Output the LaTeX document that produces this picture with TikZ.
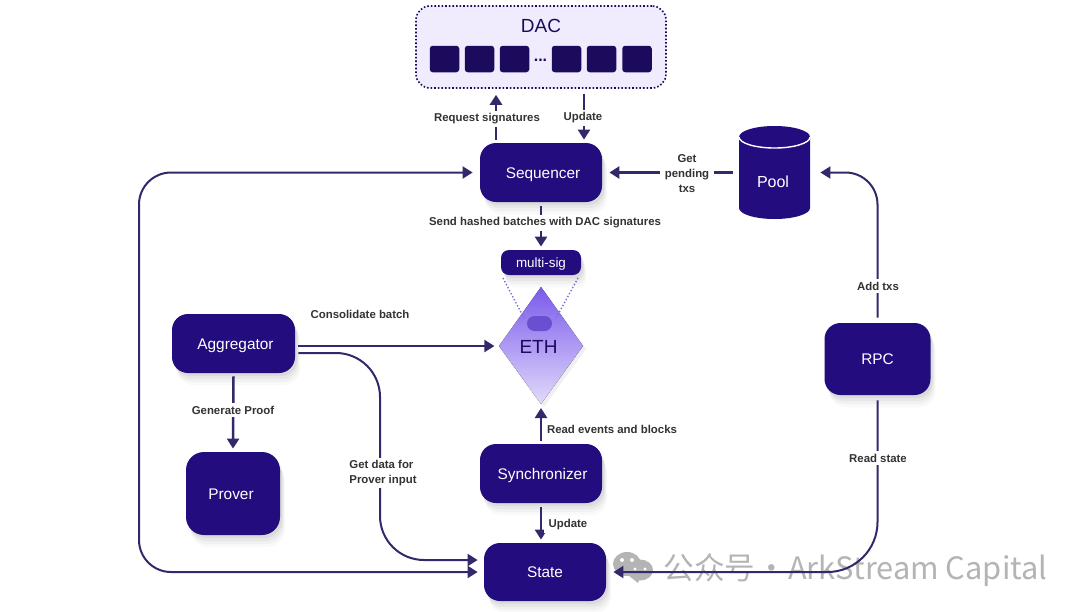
\documentclass[tikz,border=0pt]{standalone}
\usepackage{fontspec}
\setmainfont{Liberation Sans}
\newfontfamily\cjk{Noto Sans CJK SC}
\usepackage{xcolor}
\usetikzlibrary{arrows.meta,shadows,calc}
\definecolor{navy}{HTML}{220C7E}
\definecolor{ink}{HTML}{1C0A5C}
\definecolor{wire}{HTML}{332869}
\definecolor{lilac}{HTML}{F0ECFD}
\definecolor{wmgray}{HTML}{B4B4B4}
\definecolor{ethtop}{HTML}{7A5AEC}
\definecolor{ethmid}{HTML}{A28BF0}
\definecolor{ethlow}{HTML}{E2DAFB}
\definecolor{pillfill}{HTML}{6A50D0}
\tikzset{
  softshadow/.style={
    general shadow={fill=black,opacity=0.025,shadow xshift=2.5pt,shadow yshift=-6pt,scale=1.04},
    general shadow={fill=black,opacity=0.03,shadow xshift=2pt,shadow yshift=-4.5pt,scale=1.02},
    general shadow={fill=black,opacity=0.04,shadow xshift=1.5pt,shadow yshift=-3pt},
    general shadow={fill=black,opacity=0.05,shadow xshift=1pt,shadow yshift=-1.5pt}},
  box/.style={fill=navy, text=white, rounded corners=8pt, inner sep=0pt, text height=6.5pt, text depth=1pt,
    font=\fontsize{7.7}{10}\selectfont, softshadow},
  chip/.style={fill=ink, rounded corners=1.5pt, minimum width=14.75pt, minimum height=13.25pt, inner sep=0pt},
  lab/.style={fill=white, inner xsep=2.5pt, inner ysep=1.2pt, align=center, font=\fontsize{5.7}{7.4}\selectfont\bfseries\color{black!80}},
  flow/.style={draw=wire, line width=1.25pt, -{Triangle[length=5pt,width=6pt]}},
  longflow/.style={draw=wire, line width=1pt, rounded corners=#1, -{Triangle[length=5pt,width=6pt]}},
  longflow/.default=16pt,
}
\begin{document}
\begin{tikzpicture}[x=0.5pt,y=-0.5pt]
  \useasboundingbox (0,0) rectangle (1080,611);
  \fill[white] (0,0) rectangle (1080,611);

  % watermark
  \fill[wmgray] (627,564) ellipse (14 and 12);
  \fill[wmgray] (640,570) ellipse (13 and 10.5);
  \fill[wmgray] (632,578) -- (638,583) -- (640,577) -- cycle;
  \fill[white] (622,560) circle (2) (632,560) circle (2) (635,569) circle (1.6) (645,569) circle (1.6);
  \node[anchor=west,inner sep=0pt,text=wmgray] (wm) at (663,570.5)
    {\fontsize{15.3}{18}\selectfont\cjk 公众号\hspace{0.6pt}·\hspace{0.6pt}\fontsize{15.4}{18}\selectfont ArkStream Capital};

  % DAC
  \node[draw=ink, fill=lilac, densely dotted, line width=0.8pt, rounded corners=7pt,
    minimum width=125pt, minimum height=41pt] (dac) at (541,47) {};
  \node[text=ink, font=\fontsize{9.5}{11}\selectfont] (dactitle) at (541,26) {DAC};
  \foreach \n/\x in {a/444.5,b/479.5,c/514.5,d/566.5,e/601.5,f/637}
    \node[chip] (\n) at (\x,59) {};
  \node[text=ink, font=\fontsize{8}{9}\selectfont\bfseries] (dots) at (540.5,60) {...};

  % boxes
  \node[box, minimum width=61pt, minimum height=29.5pt] (seq) at (541,172.5) {\hspace*{2pt}Sequencer};
  \node[box, minimum width=61.5pt, minimum height=29.5pt] (agg) at (233.5,343.5) {\hspace*{2pt}Aggregator};
  \node[box, minimum width=47pt, minimum height=41.5pt, rounded corners=9pt] (prover) at (233,493.5) {Prover\hspace*{2pt}};
  \node[box, minimum width=61pt, minimum height=29.5pt] (sync) at (541,473.5) {\hspace*{1.5pt}Synchronizer};
  \node[box, minimum width=61pt, minimum height=29pt] (state) at (545,572) {State};
  \node[box, minimum width=53pt, minimum height=36pt] (rpc) at (877.5,359) {RPC};
  \node[box, minimum width=40pt, minimum height=12.5pt, rounded corners=4pt, text height=5.5pt, text depth=0.8pt,
    font=\fontsize{6.7}{8}\selectfont] (msig) at (541,262.5) {multi-sig};

  % pool
  \fill[navy] (739,137) arc[start angle=180, end angle=360, x radius=35.5, y radius=11]
    -- (810,208) arc[start angle=0, end angle=180, x radius=35.5, y radius=11] -- cycle;
  \draw[white, line width=0.7pt] (739,137) arc[start angle=180, end angle=0, x radius=35.5, y radius=11];
  \node[minimum width=35.5pt, minimum height=46.5pt, inner sep=0pt] (pool) at (774.5,172.5) {};
  \node[text=white, font=\fontsize{8}{10}\selectfont] (poolname) at (773,182) {Pool};

  % ETH
  \coordinate (ethN) at (541,287);
  \coordinate (ethE) at (583,346);
  \coordinate (ethS) at (541,404);
  \coordinate (ethW) at (499,346);
  \fill[black, opacity=0.06] ($(ethN)+(3,3)$) -- ($(ethE)+(3,3)$) -- ($(ethS)+(3,3)$) -- ($(ethW)+(3,3)$) -- cycle;
  \fill[top color=ethtop, middle color=ethmid, bottom color=ethlow] (ethN) -- (ethE) -- (ethS) -- (ethW) -- cycle;
  \draw[pillfill!85, densely dotted, line width=0.7pt] (503,278) -- (525,320);
  \draw[pillfill!85, densely dotted, line width=0.7pt] (578,278) -- (555,320);
  \node[fill=pillfill, rounded corners=3.7pt, minimum width=12.5pt, minimum height=7.5pt, inner sep=0pt] (pill) at (539.5,323.5) {};
  \node[text=ink, font=\fontsize{9.5}{12}\selectfont] (eth) at (538.5,347) {ETH};

  % connectors
  \draw[flow] ([xshift=-22.5pt,yshift=1.5pt]seq.north) -- ([xshift=-22.5pt,yshift=-3pt]dac.south);
  \draw[flow] ([xshift=21.5pt,yshift=-2.5pt]dac.south) -- ([xshift=21.5pt,yshift=1.5pt]seq.north);
  \draw[flow] ([yshift=-2pt]seq.south) -- ([yshift=1.5pt]msig.north);
  \draw[flow] ([xshift=-3pt]pool.west |- seq.east) -- ([xshift=3.5pt]seq.east);
  \draw[flow] ([yshift=-1.5pt]agg.south) -- ([yshift=1.5pt]prover.north);
  \draw[flow] ([yshift=1.5pt]sync.north) -- (ethS |- 0,408);
  \draw[flow] ([yshift=-2pt]sync.south) -- ([xshift=-2pt,yshift=1.5pt]state.north);
  \draw[longflow] ([xshift=1.5pt,yshift=-1.25pt]agg.east) -- +(98pt,0);
  \draw[longflow=22pt] ([xshift=1.5pt,yshift=-4.75pt]agg.east) -- (380,353) -- (380,560) -- ([xshift=-3pt,yshift=6pt]state.west);
  \draw[longflow] ([yshift=2.5pt]rpc.north) -- (877.5,172.5) -- ([xshift=5pt]pool.east |- seq.east);
  \draw[longflow=25pt] ([yshift=-2.5pt]rpc.south) -- (877.5,572) -- ([xshift=3.5pt]state.east);
  \draw[longflow, {Triangle[length=5pt,width=6pt]}-{Triangle[length=5pt,width=6pt]}]
    ([xshift=-3.5pt]seq.west) -- (139,172.5) -- (139,572) -- ([xshift=-3pt]state.west);

  % labels
  \node[lab] (l1) at (487,119) {Request signatures};
  \node[lab] (l2) at (583,118) {Update};
  \node[lab] (l3) at (545,223) {Send hashed batches with DAC signatures};
  \node[lab] (l4) at (687,173.5) {Get\\pending\\txs};
  \node[lab] (l5) at (878,286) {Add txs};
  \node[lab] (l6) at (360,314.5) {Consolidate batch};
  \node[lab] (l7) at (233,410) {Generate Proof};
  \node[lab, align=left] (l8) at (383,473) {Get data for\\Prover input};
  \node[lab] (l9) at (612,429.5) {Read events and blocks};
  \node[lab] (l10) at (568,525) {Update};
  \node[lab] (l11) at (878,458) {Read state};
\end{tikzpicture}
\end{document}
